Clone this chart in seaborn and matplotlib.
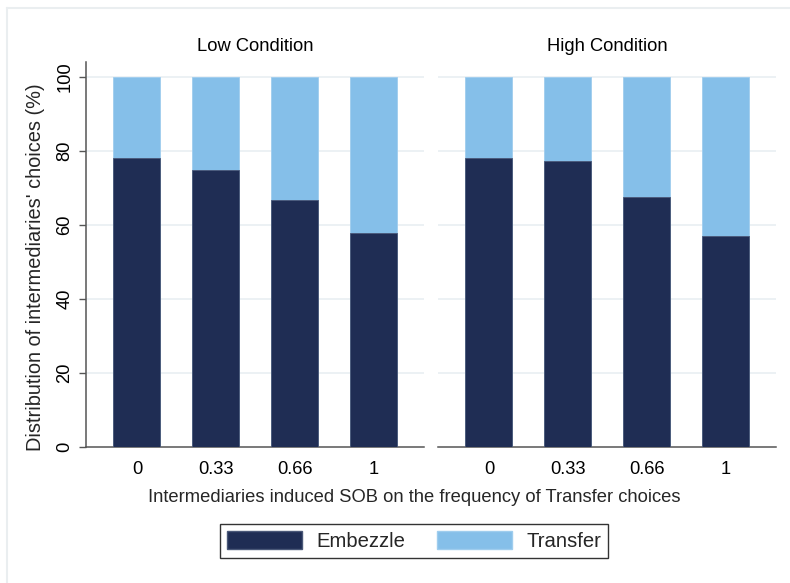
import matplotlib
matplotlib.use("Agg")
import matplotlib.pyplot as plt
import seaborn as sns
import pandas as pd
from matplotlib.patches import Patch
from matplotlib.lines import Line2D

sob_levels = ["0", "0.33", "0.66", "1"]
conditions = ["Low Condition", "High Condition"]
embezzle_low = [78.1, 74.7, 66.8, 57.9]
transfer_low = [21.9, 25.3, 33.2, 42.1]
embezzle_high = [78.1, 77.3, 67.4, 57.1]
transfer_high = [21.9, 22.7, 32.6, 42.9]

embezzle_color = "#1f2d54"
transfer_color = "#85bfe9"
grid_color = "#eaf0f3"
axis_color = "#555555"
FS = 13.2

sns.set_theme(style="white")
plt.rcParams["font.family"] = ["Liberation Sans", "DejaVu Sans"]

fig = plt.figure(figsize=(7.9, 5.83), dpi=100)
W, H = 790, 583

def fig_axes(x0, x1, ytop, ybot):
    return fig.add_axes([x0 / W, (H - ybot) / H, (x1 - x0) / W, (ybot - ytop) / H])

ax_low = fig_axes(86, 424, 62, 447)
ax_high = fig_axes(438, 776, 62, 447)

data = {
    "Low Condition": (embezzle_low, transfer_low),
    "High Condition": (embezzle_high, transfer_high),
}

for ax, cond in zip([ax_low, ax_high], conditions):
    emb, tra = data[cond]
    df = pd.DataFrame({"sob": sob_levels, "embezzle": emb,
                       "total": [e + t for e, t in zip(emb, tra)]})
    sns.barplot(data=df, x="sob", y="total", color=transfer_color, ax=ax,
                width=0.595, saturation=1, edgecolor="#9fcdee", linewidth=0.6, zorder=2)
    sns.barplot(data=df, x="sob", y="embezzle", color=embezzle_color, ax=ax,
                width=0.595, saturation=1, edgecolor="#4a5878", linewidth=0.6, zorder=3)
    ax.set_xlim(-0.645, 3.635)
    ax.set_ylim(0, 104)
    ax.set_yticks([0, 20, 40, 60, 80, 100])
    for yv in [20, 40, 60, 80, 100]:
        ax.axhline(yv, color=grid_color, lw=1.3, zorder=1)
    for s in ["top", "right"]:
        ax.spines[s].set_visible(False)
    ax.spines["bottom"].set_color(axis_color)
    ax.spines["bottom"].set_linewidth(1.1)
    ax.set_xlabel("")
    ax.set_ylabel("")
    ax.tick_params(axis="x", length=0, pad=10, labelsize=FS, labelcolor="black")
    ax.set_title(cond, fontsize=FS, pad=8, color="black")

ax_low.spines["left"].set_color(axis_color)
ax_low.spines["left"].set_linewidth(1.1)
ax_low.tick_params(axis="y", length=5, width=1, color=axis_color, left=True,
                   pad=4, labelsize=FS, labelcolor="black")
for lab in ax_low.get_yticklabels():
    lab.set_rotation(90)
    lab.set_va("center")
ax_low.set_ylabel("Distribution of intermediaries' choices (%)", fontsize=14.4)
ax_low.yaxis.set_label_coords((45 - 86) / 338, (447 - 267) / 385)

ax_high.spines["left"].set_visible(False)
ax_high.tick_params(axis="y", left=False, labelleft=False)

fig.text(414 / W, 1 - 497 / H, "Intermediaries induced SOB on the frequency of Transfer choices",
         ha="center", va="center", fontsize=FS)

handles = [Patch(facecolor=embezzle_color, edgecolor="#4a5878", label="Embezzle"),
           Patch(facecolor=transfer_color, edgecolor="#9fcdee", label="Transfer")]
leg = fig.legend(handles=handles, loc="center", bbox_to_anchor=(414 / W, 1 - 541 / H),
                 ncol=2, fontsize=14.6, frameon=True, fancybox=False,
                 handlelength=3.7, handleheight=1.0, columnspacing=1.6,
                 handletextpad=0.7, borderpad=0.35, borderaxespad=0)
leg.get_frame().set_edgecolor("black")
leg.get_frame().set_linewidth(1.0)

fig.add_artist(Line2D([7 / W, 7 / W], [0, 1 - 7.5 / H], color="#eaeef0", lw=1.5))
fig.add_artist(Line2D([7 / W, 1], [1 - 7.5 / H, 1 - 7.5 / H], color="#eaeef0", lw=1.5))

fig.savefig("out.png", dpi=100, facecolor="white")
